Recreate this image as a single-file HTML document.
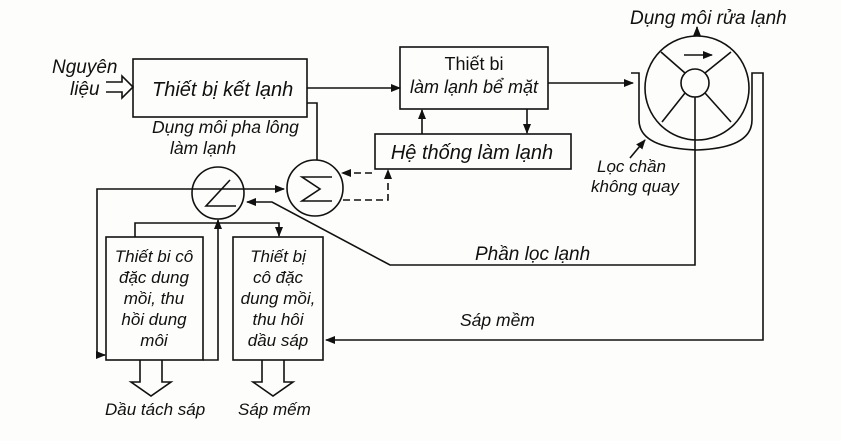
<!DOCTYPE html>
<html><head><meta charset="utf-8"><style>
body{margin:0;background:#fdfdfb;}
svg{display:block;font-size:16px}
text{font-family:"Liberation Sans","DejaVu Sans",sans-serif;font-style:italic;fill:#111}
</style></head><body>
<svg width="841" height="441" viewBox="0 0 841 441">
<defs><marker id="a" markerWidth="10" markerHeight="8" refX="9" refY="4" orient="auto" markerUnits="userSpaceOnUse"><path d="M0,0 L10,4 L0,8 Z" fill="#111"/></marker></defs>
<g stroke="#111" stroke-width="1.6" fill="none">
<rect x="133" y="59" width="174" height="58"/>
<rect x="400" y="47" width="148" height="62"/>
<rect x="375" y="134" width="196" height="35"/>
<rect x="106" y="237" width="97" height="123"/>
<rect x="233" y="237" width="90" height="123"/>
<path d="M106,82 H122 V76 L133,87 L122,98 V92 H106"/>
<path d="M307,88 H400" marker-end="url(#a)"/>
<path d="M548,83 H633" marker-end="url(#a)"/>
<path d="M422,134 V110" marker-end="url(#a)"/>
<path d="M527,109 V133" marker-end="url(#a)"/>
<circle cx="697" cy="88" r="52"/>
<circle cx="695" cy="83" r="14"/>
<path d="M685,73 L661,52 M705,73 L731,52 M685,93 L662,122 M705,93 L731,122"/>
<path d="M631,73 H639 V120 Q639,148 697,150 Q752,148 752,120 V73 H763 V340 H326" marker-end="url(#a)"/>
<path d="M697,36 V27" marker-end="url(#a)"/>
<path d="M684,55 H712" marker-end="url(#a)"/>
<path d="M630,158 L645,140" marker-end="url(#a)"/>
<path d="M695,97 V265 H390 L272,202 H247" marker-end="url(#a)"/>
<circle cx="218" cy="193" r="26"/>
<circle cx="315" cy="188" r="28"/>
<path d="M230,180 L206,206 H236"/>
<path d="M332,177 H302 L320,189 L302,201 H332"/>
<path d="M307,103 H317 V160"/>
<path d="M97,355 V189 H284" marker-end="url(#a)"/>
<path d="M97,355 H105" marker-end="url(#a)"/>
<path d="M203,360 H218 V220" marker-end="url(#a)"/>
<path d="M135,237 V223 H279 V236" marker-end="url(#a)"/>
<path d="M343,200 H388 V170" stroke-dasharray="7,4" marker-end="url(#a)"/>
<path d="M372,173 H342" stroke-dasharray="7,4" marker-end="url(#a)"/>
<path d="M140,360 V382 H131 L151,396 L171,382 H162 V360"/>
<path d="M262,360 V382 H253 L273,396 L293,382 H284 V360"/>
</g>
<text x="52" y="73" font-size="19">Nguyên</text>
<text x="70" y="95" font-size="19">liệu</text>
<text x="152" y="96" font-size="20">Thiết bị kết lạnh</text>
<text x="474" y="70" text-anchor="middle" style="font-style:normal" font-size="18">Thiết bi</text>
<text x="474" y="93" text-anchor="middle" font-size="18">làm lạnh bể mặt</text>
<text x="472" y="159" text-anchor="middle" font-size="20">Hệ thống làm lạnh</text>
<text x="152" y="133" font-size="17.5">Dụng môi pha lông</text>
<text x="170" y="154" font-size="17.5">làm lạnh</text>
<text x="630" y="24" font-size="19">Dụng môi rửa lạnh</text>
<text x="597" y="172" font-size="17">Lọc chần</text>
<text x="591" y="192" font-size="17">không quay</text>
<text x="475" y="260" font-size="19">Phần lọc lạnh</text>
<text x="460" y="326" font-size="17.5">Sáp mềm</text>
<g text-anchor="middle" font-size="17">
<text x="154" y="262">Thiết bi cô</text>
<text x="154" y="283">đặc dung</text>
<text x="154" y="304">mồi, thu</text>
<text x="154" y="325">hồi dung</text>
<text x="154" y="346">môi</text>
<text x="278" y="262">Thiết bị</text>
<text x="278" y="283">cô đặc</text>
<text x="278" y="304">dung mồi,</text>
<text x="278" y="325">thu hôi</text>
<text x="278" y="346">dầu sáp</text>
</g>
<text x="105" y="415" font-size="17">Dầu tách sáp</text>
<text x="238" y="415" font-size="17">Sáp mếm</text>
</svg>
</body></html>
